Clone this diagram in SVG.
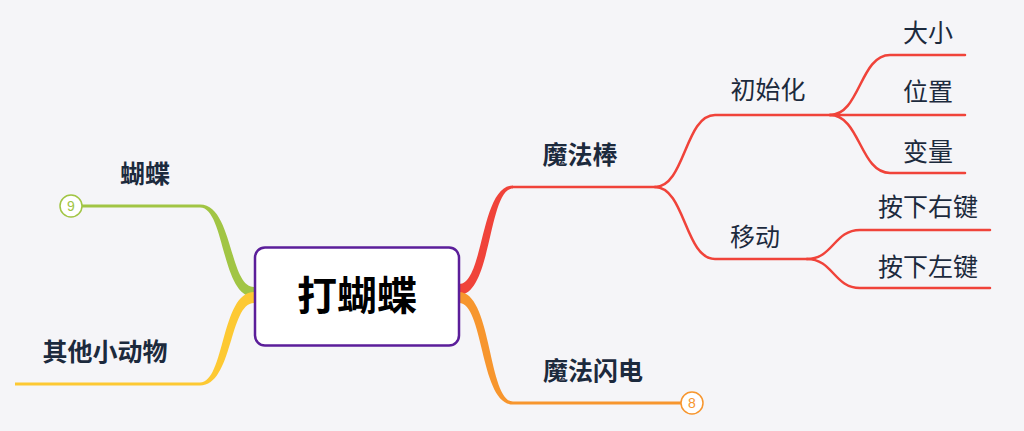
<svg xmlns="http://www.w3.org/2000/svg" width="1024" height="431" viewBox="0 0 1024 431">
<style>
text{font-family:"Noto Sans CJK SC","Noto Sans",sans-serif;fill:#1c2a3d;text-anchor:middle}
.b{font-weight:700;font-size:25px}
.r{font-weight:400;font-size:25px}
.thin{fill:none;stroke:#f0433a;stroke-width:2.5;stroke-linecap:round}
.num{font-size:14px;font-family:"Liberation Sans",Arial,sans-serif}
</style>
<rect width="1024" height="431" fill="#f5f5f8"/>
<g id="connectors">
<path d="M459,284 C484,284 480,185.5 513,185.5 L513,188.5 C488,188.5 492,295 459,295 Z" fill="#f0433a"/>
<path d="M513,187 L655,187" class="thin" stroke-width="3"/>
<path d="M655,187 C685,187 685,115 715,115 L830,115" class="thin"/>
<path d="M655,187 C685,187 685,259 715,259 L807,259" class="thin"/>
<path d="M830,115 C860,115 860,55 890,55 L965,55" class="thin"/>
<path d="M830,115 L965,115" class="thin"/>
<path d="M830,115 C860,115 860,173 890,173 L965,173" class="thin"/>
<path d="M807,259 C833,259 834,230 860,230 L990,230" class="thin"/>
<path d="M807,259 C833,259 834,288 860,288 L990,288" class="thin"/>
<path d="M459,292 C492,292 488,401.5 513,401.5 L513,404.5 C480,404.5 484,303 459,303 Z" fill="#f7962e"/>
<path d="M513,403 L681,403" fill="none" stroke="#f7962e" stroke-width="3"/>
<path d="M254,287 C229,287 233,204.5 200,204.5 L200,207.5 C225,207.5 221,297 254,297 Z" fill="#a1c544"/>
<path d="M200,206 L82,206" fill="none" stroke="#a1c544" stroke-width="3"/>
<path d="M254,292 C221,292 225,382.5 200,382.5 L200,385.5 C233,385.5 229,303 254,303 Z" fill="#fdc933"/>
<path d="M200,384 L15,384" fill="none" stroke="#fdc933" stroke-width="3"/>
</g>
<g id="root">
<rect x="255" y="247.5" width="204" height="98" rx="10" fill="#ffffff" stroke="#5b1e9a" stroke-width="2.5"/>
<text x="357" y="310" style="font-size:40px;font-weight:700;fill:#000">打蝴蝶</text>
</g>
<g id="n-mofabang"><text class="b" x="580" y="164">魔法棒</text></g>
<g id="n-mofashandian"><text class="b" x="593" y="380">魔法闪电</text>
<circle cx="692" cy="403" r="11" fill="#ffffff" stroke="#f7962e" stroke-width="1.5"/>
<text class="num" x="692" y="408" style="fill:#f7962e">8</text></g>
<g id="n-hudie"><text class="b" x="145" y="183">蝴蝶</text>
<circle cx="71" cy="206" r="11" fill="#ffffff" stroke="#a1c544" stroke-width="1.5"/>
<text class="num" x="71" y="211" style="fill:#a1c544">9</text></g>
<g id="n-qita"><text class="b" x="105" y="361">其他小动物</text></g>
<g id="n-chushihua"><text class="r" x="768" y="99">初始化</text></g>
<g id="n-yidong"><text class="r" x="755" y="246">移动</text></g>
<g id="n-daxiao"><text class="r" x="928" y="42">大小</text></g>
<g id="n-weizhi"><text class="r" x="928" y="101">位置</text></g>
<g id="n-bianliang"><text class="r" x="928" y="161">变量</text></g>
<g id="n-youjian"><text class="r" x="928" y="216">按下右键</text></g>
<g id="n-zuojian"><text class="r" x="928" y="276">按下左键</text></g>
</svg>
